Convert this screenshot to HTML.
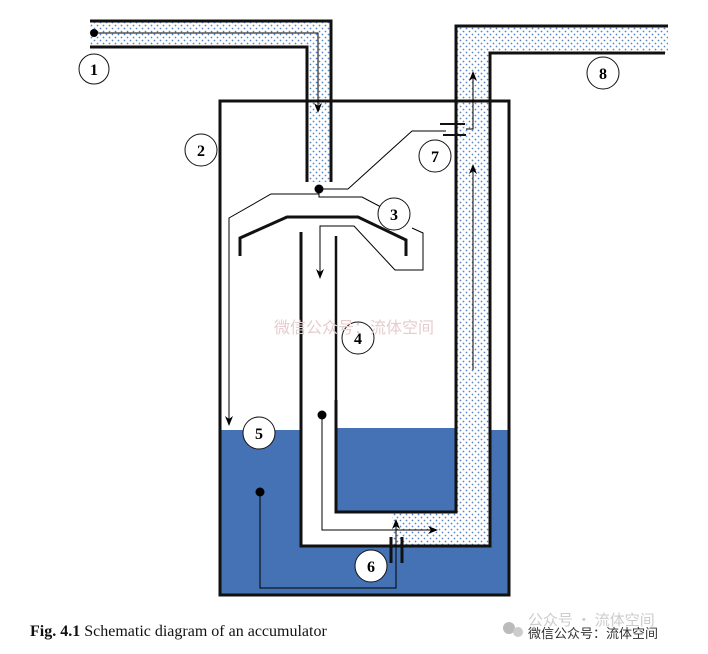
<!DOCTYPE html>
<html><head><meta charset="utf-8"><style>
body{margin:0;background:#fff;width:708px;height:654px;overflow:hidden}
</style></head><body>
<svg width="708" height="654" viewBox="0 0 708 654" xmlns="http://www.w3.org/2000/svg" style="position:absolute;left:0;top:0">
<defs>
<pattern id="d" width="6" height="6" patternUnits="userSpaceOnUse">
<rect width="6" height="6" fill="#fff"/>
<circle cx="1.5" cy="1.5" r="0.9" fill="#5a86c8"/>
<circle cx="4.5" cy="4.5" r="0.9" fill="#5a86c8"/>
</pattern>
<marker id="a" markerWidth="10" markerHeight="10" refX="9" refY="5" orient="auto" markerUnits="userSpaceOnUse"><path d="M0,1 L10,5 L0,9 L3,5 Z" fill="#000"/></marker>
</defs>
<rect x="220" y="430" width="289" height="165" fill="#4472b4"/>
<rect x="301" y="232" width="189" height="200" fill="#fff"/>
<rect x="301" y="430" width="35" height="116" fill="#fff"/>
<rect x="336" y="428" width="120" height="84" fill="#4472b4"/>
<rect x="336" y="512" width="56" height="34" fill="#fff"/>
<rect x="392" y="512" width="98" height="34" fill="url(#d)"/>
<rect x="456" y="26" width="34" height="520" fill="url(#d)"/>
<rect x="456" y="26" width="212" height="27" fill="url(#d)"/>
<rect x="90" y="21" width="241" height="26" fill="url(#d)"/>
<rect x="307" y="21" width="24" height="161" fill="url(#d)"/>
<rect x="220" y="101" width="289" height="494" fill="none" stroke="#111" stroke-width="3"/>
<polyline points="90,21 331,21 331,182" fill="none" stroke="#111" stroke-width="3"/>
<polyline points="90,47 307,47 307,182" fill="none" stroke="#111" stroke-width="3"/>
<circle cx="94" cy="33" r="4" fill="#000"/>
<polyline points="94,33 318,33 318,112" fill="none" stroke="#000" stroke-width="1" marker-end="url(#a)"/>
<polyline points="668,26 456,26 456,512 336,512 336,400" fill="none" stroke="#111" stroke-width="3"/>
<polyline points="665,53 490,53 490,546 301,546 301,232" fill="none" stroke="#111" stroke-width="3"/>
<line x1="336" y1="236" x2="336" y2="402" stroke="#111" stroke-width="2.5"/>
<polyline points="240,256 240,238 287,217 358,217 406,240 406,256" fill="none" stroke="#111" stroke-width="3"/>
<polyline points="319,194 271,194 229,218 229,425" fill="none" stroke="#000" stroke-width="1" marker-end="url(#a)"/>
<circle cx="319" cy="189" r="4.5" fill="#000"/>
<polyline points="319,189 348,189 412,131 446,131" fill="none" stroke="#000" stroke-width="1"/>
<polyline points="319,189 319,197 362,197 381,207" fill="none" stroke="#000" stroke-width="1"/>
<polyline points="412,228 423,233 423,270 395,270 354,226 320,226 320,278" fill="none" stroke="#000" stroke-width="1" marker-end="url(#a)"/>
<line x1="440" y1="124" x2="465" y2="124" stroke="#111" stroke-width="2"/>
<line x1="443" y1="135" x2="466" y2="135" stroke="#111" stroke-width="2"/>
<polyline points="466,129 473,129 473,72" fill="none" stroke="#000" stroke-width="1" marker-end="url(#a)"/>
<line x1="473" y1="370" x2="473" y2="165" stroke="#000" stroke-width="1" marker-end="url(#a)"/>
<circle cx="322" cy="415" r="4.5" fill="#000"/>
<polyline points="322,415 322,530 437,530" fill="none" stroke="#000" stroke-width="1" marker-end="url(#a)"/>
<circle cx="260" cy="492" r="4.5" fill="#000"/>
<polyline points="260,492 260,588 396,588 396,520" fill="none" stroke="#000" stroke-width="1" marker-end="url(#a)"/>
<line x1="391" y1="537" x2="391" y2="563" stroke="#111" stroke-width="3"/>
<line x1="402" y1="537" x2="402" y2="563" stroke="#111" stroke-width="3"/>
<g font-family="Liberation Serif,serif" font-weight="bold" font-size="16" text-anchor="middle">
<g fill="#fff" stroke="#111" stroke-width="1">
<circle cx="94" cy="69" r="15"/><circle cx="201" cy="150" r="16"/><circle cx="394" cy="214" r="16"/>
<circle cx="358" cy="338" r="16"/><circle cx="259" cy="433" r="16"/><circle cx="371" cy="566" r="16"/>
<circle cx="435" cy="156" r="16"/><circle cx="603" cy="73" r="16"/></g>
<text x="94" y="75">1</text><text x="201" y="156">2</text><text x="394" y="220">3</text>
<text x="358" y="344">4</text><text x="259" y="439">5</text><text x="371" y="572">6</text>
<text x="435" y="162">7</text><text x="603" y="79">8</text>
</g>
<text x="354" y="333" font-family="Liberation Sans,'Noto Sans CJK SC',sans-serif" font-size="16" fill="#e6cccc" text-anchor="middle">微信公众号：流体空间</text>
<text x="30" y="636" font-family="Liberation Serif,serif" font-size="16" fill="#111"><tspan font-weight="bold">Fig. 4.1</tspan>  Schematic diagram of an accumulator</text>
<circle cx="509" cy="628" r="6" fill="#bbb"/><circle cx="518" cy="632" r="5" fill="#ccc"/>
<text x="528" y="625" font-family="'Noto Sans CJK SC',sans-serif" font-size="15" fill="#ccc">公众号 · 流体空间</text>
<text x="528" y="638" font-family="'Noto Sans CJK SC',sans-serif" font-size="13" fill="#333">微信公众号：流体空间</text>
</svg>
</body></html>
